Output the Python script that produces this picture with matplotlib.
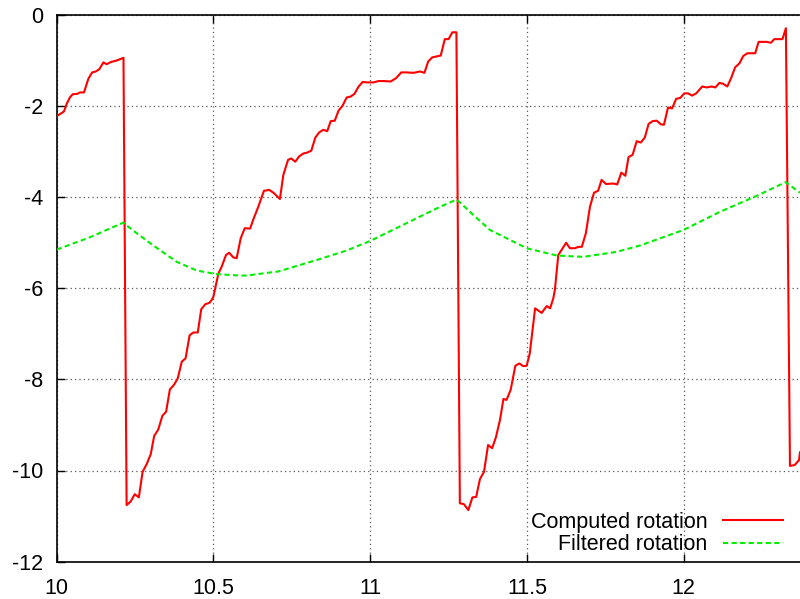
import matplotlib
matplotlib.use("Agg")
import matplotlib.pyplot as plt

plt.rcParams['font.family'] = ['Liberation Sans', 'DejaVu Sans']

# Computed rotation (red)
comp_x = [10.000, 10.023, 10.032, 10.042, 10.051, 10.066, 10.074, 10.087, 10.101, 10.113,
          10.125, 10.136, 10.149, 10.159, 10.174, 10.191, 10.213,
          10.223, 10.236, 10.249, 10.262, 10.274, 10.287, 10.300, 10.311, 10.324, 10.337,
          10.349, 10.361, 10.374, 10.386, 10.399, 10.411, 10.424, 10.436, 10.450, 10.461,
          10.474, 10.487, 10.494, 10.500, 10.516, 10.526, 10.540, 10.550, 10.563, 10.574,
          10.587, 10.600, 10.617, 10.627, 10.643, 10.661, 10.678, 10.691, 10.712, 10.723,
          10.738, 10.748, 10.761, 10.774, 10.787, 10.799, 10.812, 10.825, 10.837, 10.850,
          10.863, 10.874, 10.887, 10.899, 10.912, 10.925, 10.938, 10.950, 10.963, 10.976,
          10.989, 11.010, 11.027, 11.044, 11.065, 11.082, 11.099, 11.116, 11.138, 11.159,
          11.173, 11.185, 11.198, 11.212, 11.225, 11.238, 11.250, 11.262, 11.275,
          11.286, 11.299, 11.313, 11.326, 11.338, 11.350, 11.363, 11.376, 11.389, 11.401,
          11.414, 11.425, 11.435, 11.448, 11.463, 11.476, 11.488, 11.499, 11.509, 11.526,
          11.547, 11.563, 11.574, 11.584, 11.589, 11.600, 11.625, 11.637, 11.653, 11.664,
          11.675, 11.688, 11.701, 11.714, 11.727, 11.738, 11.752, 11.776, 11.788, 11.801,
          11.814, 11.824, 11.837, 11.850, 11.863, 11.876, 11.888, 11.901, 11.914, 11.927,
          11.937, 11.950, 11.963, 11.976, 11.989, 12.002, 12.014, 12.027, 12.040, 12.059,
          12.073, 12.089, 12.101, 12.114, 12.126, 12.139, 12.151, 12.164, 12.178, 12.190,
          12.203, 12.216, 12.228, 12.239, 12.252, 12.265, 12.278, 12.289, 12.302, 12.315,
          12.326, 12.339, 12.354, 12.368, 12.371]
comp_y = [-2.22, -2.12, -1.95, -1.81, -1.74, -1.73, -1.70, -1.70, -1.40, -1.26,
          -1.24, -1.19, -1.04, -1.08, -1.03, -1.00, -0.94,
          -10.76, -10.68, -10.52, -10.59, -10.03, -9.86, -9.64, -9.24, -9.10, -8.80,
          -8.71, -8.22, -8.12, -7.98, -7.61, -7.54, -7.03, -6.97, -6.97, -6.46,
          -6.35, -6.32, -6.26, -6.18, -5.67, -5.53, -5.27, -5.22, -5.32, -5.34,
          -4.90, -4.68, -4.69, -4.49, -4.21, -3.86, -3.84, -3.90, -4.04, -3.51,
          -3.18, -3.15, -3.22, -3.10, -3.04, -3.02, -2.98, -2.69, -2.58, -2.52,
          -2.55, -2.33, -2.32, -2.10, -1.99, -1.81, -1.79, -1.73, -1.57, -1.47,
          -1.48, -1.48, -1.45, -1.45, -1.46, -1.39, -1.26, -1.26, -1.27, -1.24,
          -1.27, -1.02, -0.93, -0.91, -0.89, -0.53, -0.53, -0.38, -0.38,
          -10.72, -10.74, -10.87, -10.59, -10.58, -10.19, -10.03, -9.44, -9.51, -9.27,
          -8.89, -8.43, -8.45, -8.23, -7.70, -7.65, -7.71, -7.70, -7.43, -6.44,
          -6.54, -6.39, -6.44, -6.22, -6.04, -5.27, -5.00, -5.12, -5.12, -5.09,
          -5.09, -4.79, -4.21, -3.90, -3.86, -3.62, -3.71, -3.70, -3.72, -3.46,
          -3.53, -3.12, -3.07, -2.77, -2.80, -2.69, -2.39, -2.33, -2.32, -2.40,
          -2.41, -2.03, -2.05, -1.84, -1.82, -1.72, -1.72, -1.77, -1.72, -1.57,
          -1.59, -1.57, -1.59, -1.49, -1.51, -1.57, -1.39, -1.15, -1.06, -0.90,
          -0.84, -0.84, -0.84, -0.59, -0.59, -0.59, -0.61, -0.53, -0.53, -0.53,
          -0.29, -9.90, -9.88, -9.77, -9.60]

# Filtered rotation (green)
filt_x = [10.000, 10.106, 10.212, 10.255, 10.298, 10.383, 10.447, 10.510, 10.585, 10.606,
          10.707, 10.829, 10.925, 11.000, 11.116, 11.223, 11.276, 11.329, 11.382, 11.499,
          11.595, 11.680, 11.786, 11.861, 11.999, 12.116, 12.233, 12.325, 12.371]
filt_y = [-5.15, -4.88, -4.56, -4.79, -5.01, -5.42, -5.61, -5.69, -5.72, -5.72,
          -5.63, -5.38, -5.17, -4.96, -4.57, -4.21, -4.05, -4.39, -4.72, -5.12,
          -5.28, -5.31, -5.20, -5.06, -4.72, -4.32, -3.97, -3.67, -3.90]

xticks = [10, 10.5, 11, 11.5, 12]
xticklabels = ['10', '10.5', '11', '11.5', '12']
yticks = [0, -2, -4, -6, -8, -10, -12]
yticklabels = ['0', '-2', '-4', '-6', '-8', '-10', '-12']

FS = 15.5

fig = plt.figure(figsize=(8.0, 5.99), dpi=100)
ax = fig.add_axes([56.7 / 800, (599 - 561.6) / 599, 1 - 56.7 / 800, (561.6 - 15) / 599])

ax.plot(comp_x, comp_y, color='#ff0000', lw=1.5, label='Computed rotation', zorder=3)
ax.plot(filt_x, filt_y, color='#00ee00', lw=1.5, linestyle=(0, (2.5, 1.6)),
        label='Filtered rotation', zorder=3)

ax.set_xlim(10, 12.371)
ax.set_ylim(-12, 0)
ax.set_xticks(xticks)
ax.set_xticklabels(xticklabels)
ax.set_yticks(yticks)
ax.set_yticklabels(yticklabels)
ax.tick_params(direction='in', top=True, length=6, width=1, labelsize=FS)
ax.tick_params(axis='y', pad=10)
ax.tick_params(axis='x', pad=12)
ax.grid(True, color='0.35', linestyle=(0, (1, 2.5)), linewidth=0.9)
ax.spines['right'].set_visible(False)
for s in ['left', 'top', 'bottom']:
    ax.spines[s].set_linewidth(1.2)

ax.legend(loc='lower right', bbox_to_anchor=(0.977, 0.012), frameon=False, markerfirst=False,
          fontsize=FS, handlelength=2.8, handletextpad=0.7, labelspacing=0.05,
          borderpad=0.0, borderaxespad=0.0)

fig.savefig('out.png', dpi=100)
